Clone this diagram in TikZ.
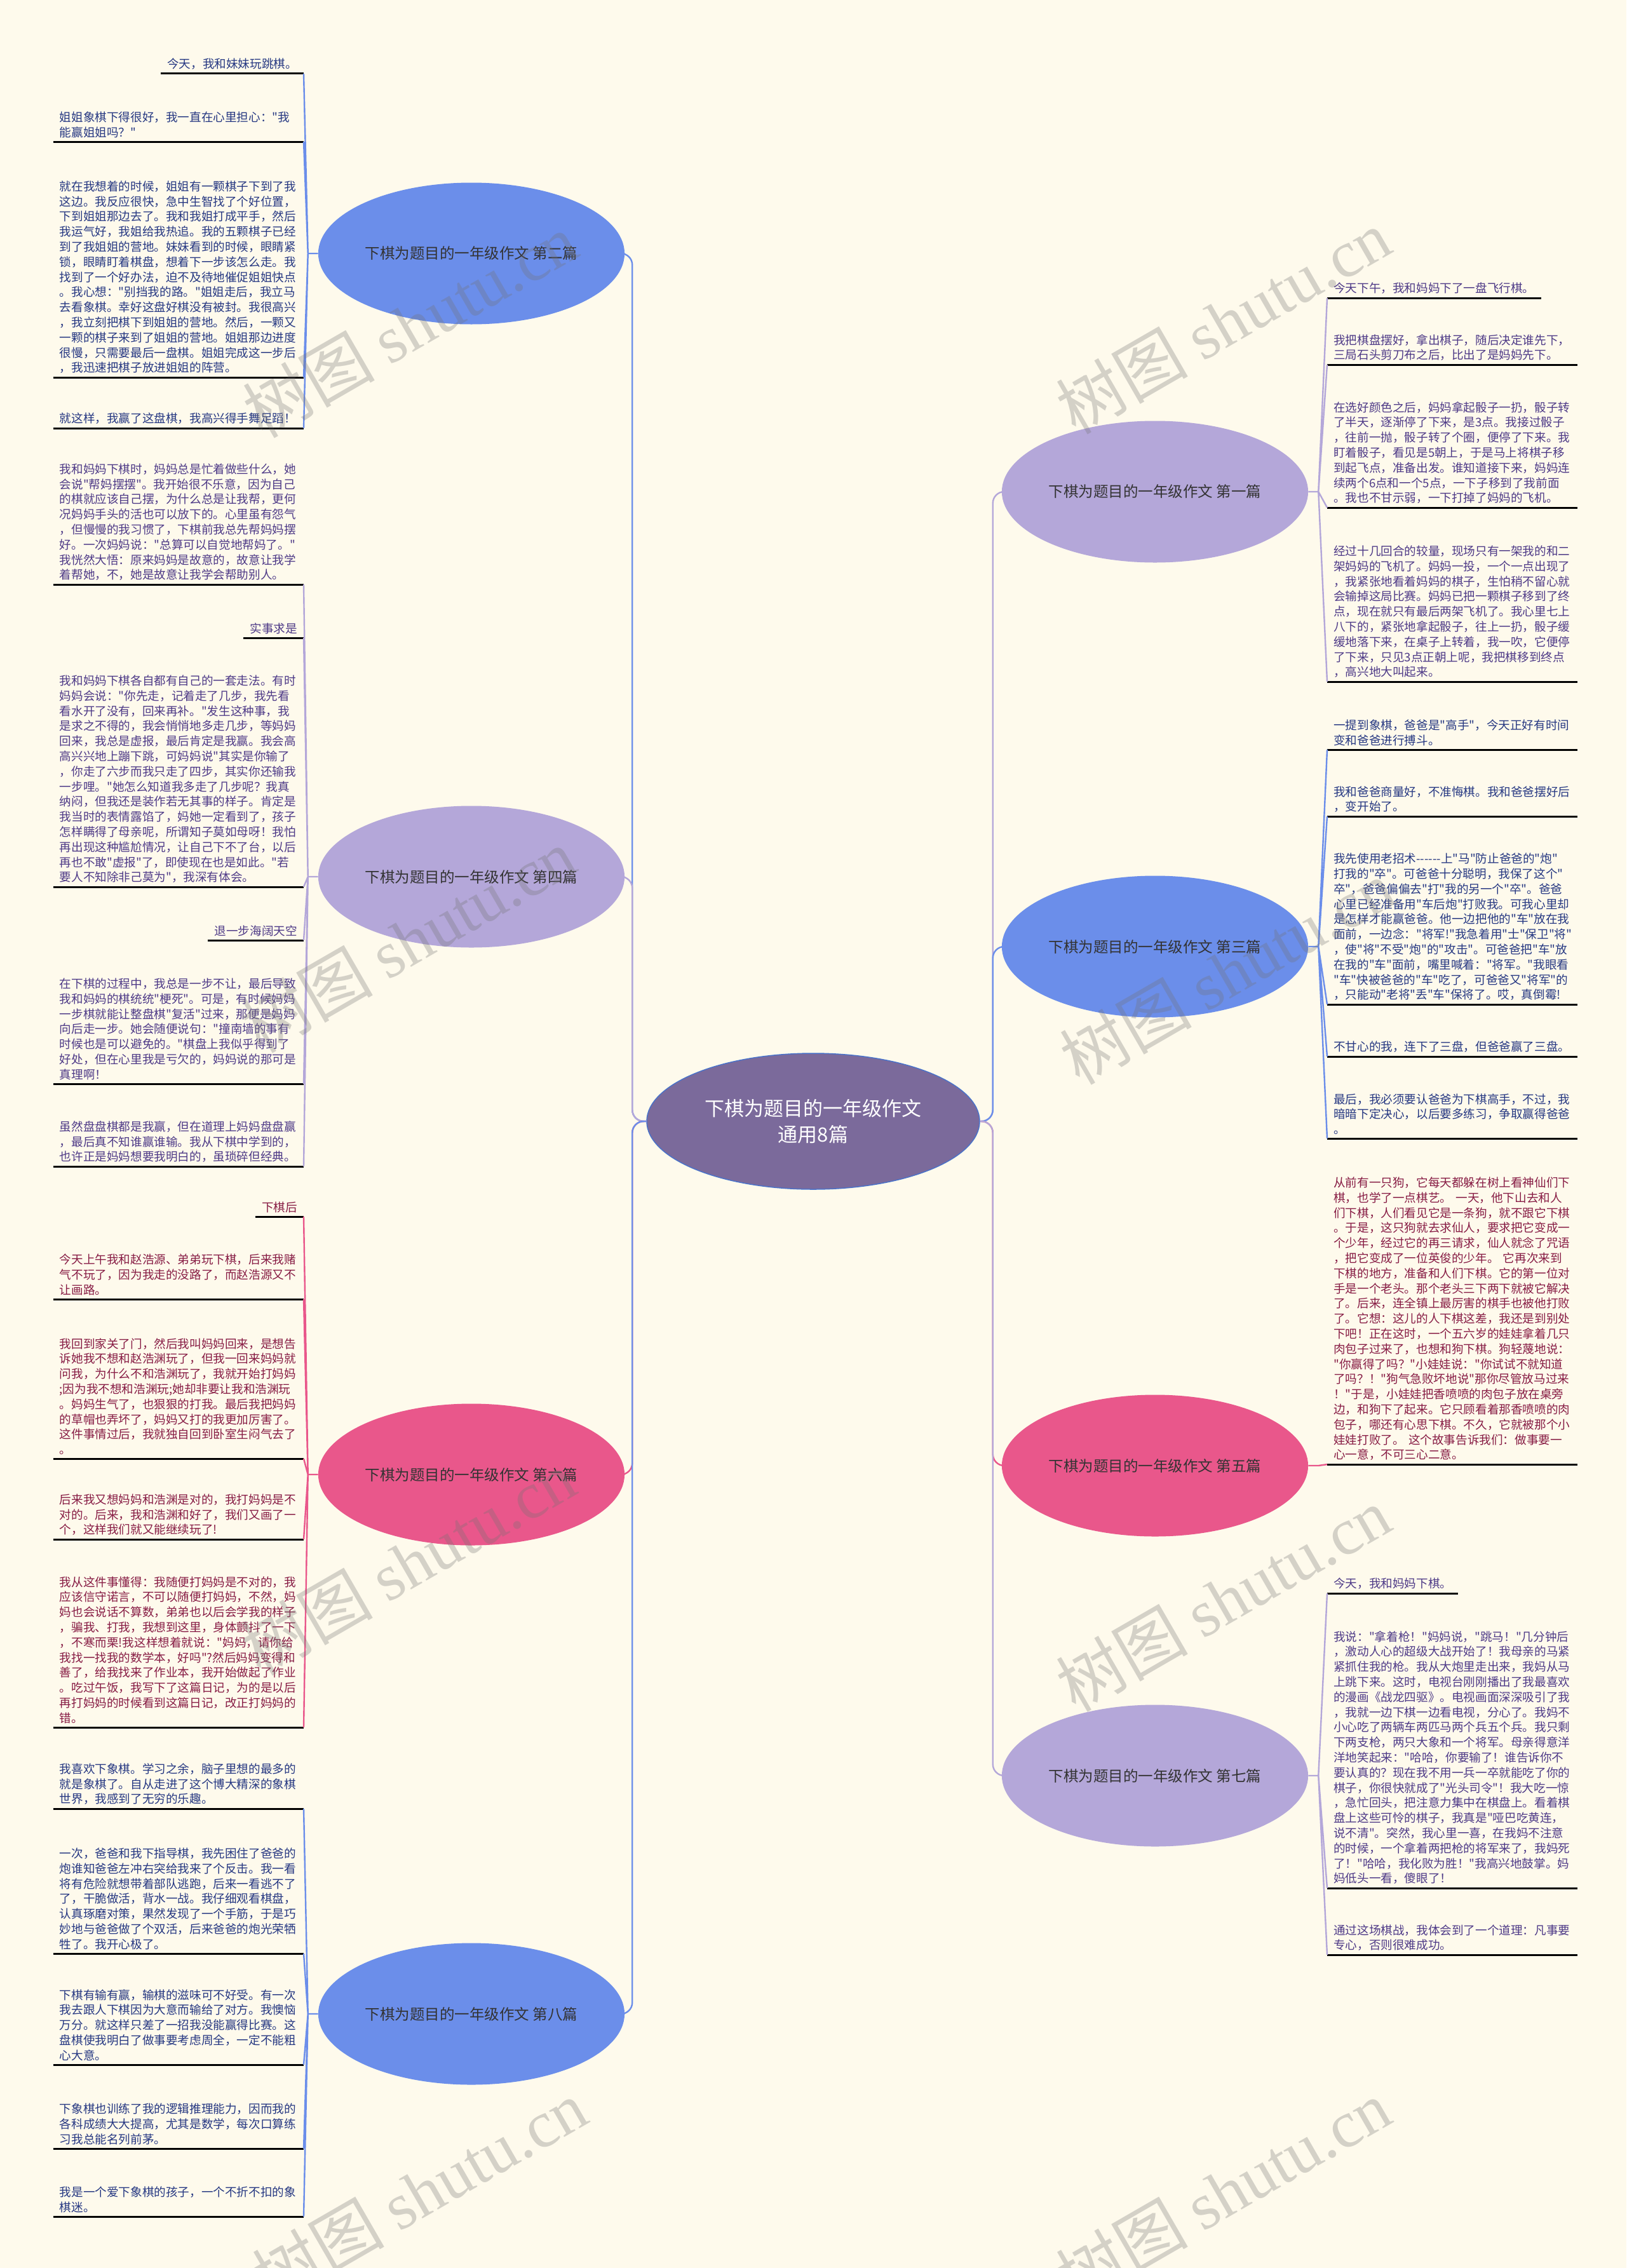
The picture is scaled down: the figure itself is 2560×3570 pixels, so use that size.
\documentclass[tikz,border=0pt]{standalone}
\usepackage{fontspec}
\newfontfamily\cjk{Noto Sans CJK SC}
\newfontfamily\wmserif{Liberation Serif}
\usetikzlibrary{shapes.geometric}

\definecolor{bgcream}{RGB}{254,250,236}
\definecolor{rootfill}{RGB}{123,106,155}
\definecolor{rootline}{RGB}{74,114,201}
\definecolor{pblue}{RGB}{107,142,234}
\definecolor{plilac}{RGB}{180,167,217}
\definecolor{ppink}{RGB}{233,87,139}
\definecolor{tblue}{RGB}{38,56,130}
\definecolor{tlilac}{RGB}{78,58,135}
\definecolor{tpink}{RGB}{135,28,68}

\begin{document}
\begin{tikzpicture}[
  x=1pt, y=-1pt,
  root/.style = {ellipse, draw=rootline, line width=1.5pt, fill=rootfill, text=white,
    minimum width=524pt, minimum height=214pt, align=center,
    font=\cjk\fontsize{31}{41}\selectfont},
  pian/.style = {ellipse, fill=#1, minimum width=481pt, minimum height=223pt,
    text=black!80, font=\cjk\fontsize{23.5}{27}\selectfont},
  uline/.style = {draw=black, line width=3pt},
  leaf/.style = {text=#1, inner xsep=10pt, inner ysep=6pt, align=left,
    font=\cjk\fontsize{18.6}{23.8}\selectfont,
    append after command={(\tikzlastnode.south west) edge[uline] (\tikzlastnode.south east)}},
  wide/.style = {text width=374pt},
  lside/.style = {anchor=south east},
  rside/.style = {anchor=south west},
  conn/.style = {draw=#1, line width=2.4pt, rounded corners=18pt},
  wmark/.style = {rotate=30, text=black!55, opacity=0.3, font=\cjk\fontsize{104}{104}\selectfont}
  ]
	\useasboundingbox (0,0) rectangle (2560,3570);
	\fill[bgcream] (0,0) rectangle (2560,3570);

	\node[root] (root) at (1280,1765) {下棋为题目的一年级作文\\通用8篇};

	\node[pian=pblue]  (pian2) at (742,399)   {下棋为题目的一年级作文 第二篇};
	\node[pian=plilac] (pian4) at (742,1380)  {下棋为题目的一年级作文 第四篇};
	\node[pian=ppink]  (pian6) at (742,2321)  {下棋为题目的一年级作文 第六篇};
	\node[pian=pblue]  (pian8) at (742,3170)  {下棋为题目的一年级作文 第八篇};
	\node[pian=plilac] (pian1) at (1818,774)  {下棋为题目的一年级作文 第一篇};
	\node[pian=pblue]  (pian3) at (1818,1490) {下棋为题目的一年级作文 第三篇};
	\node[pian=ppink]  (pian5) at (1818,2307) {下棋为题目的一年级作文 第五篇};
	\node[pian=plilac] (pian7) at (1818,2795) {下棋为题目的一年级作文 第七篇};

	\node[leaf=tblue,lside] (p2a) at (478,116) {今天，我和妹妹玩跳棋。};
	\node[leaf=tblue,wide,lside] (p2b) at (478,223) {姐姐象棋下得很好，我一直在心里担心："我\\能赢姐姐吗？"};
	\node[leaf=tblue,wide,lside] (p2c) at (478,594) {就在我想着的时候，姐姐有一颗棋子下到了我\\这边。我反应很快，急中生智找了个好位置，\\下到姐姐那边去了。我和我姐打成平手，然后\\我运气好，我姐给我热追。我的五颗棋子已经\\到了我姐姐的营地。妹妹看到的时候，眼睛紧\\锁，眼睛盯着棋盘，想着下一步该怎么走。我\\找到了一个好办法，迫不及待地催促姐姐快点\\。我心想："别挡我的路。"姐姐走后，我立马\\去看象棋。幸好这盘好棋没有被封。我很高兴\\，我立刻把棋下到姐姐的营地。然后，一颗又\\一颗的棋子来到了姐姐的营地。姐姐那边进度\\很慢，只需要最后一盘棋。姐姐完成这一步后\\，我迅速把棋子放进姐姐的阵营。};
	\node[leaf=tblue,wide,lside] (p2d) at (478,674) {就这样，我赢了这盘棋，我高兴得手舞足蹈！};

	\node[leaf=tlilac,wide,lside] (p4a) at (478,920) {我和妈妈下棋时，妈妈总是忙着做些什么，她\\会说"帮妈摆摆"。我开始很不乐意，因为自己\\的棋就应该自己摆，为什么总是让我帮，更何\\况妈妈手头的活也可以放下的。心里虽有怨气\\，但慢慢的我习惯了，下棋前我总先帮妈妈摆\\好。一次妈妈说："总算可以自觉地帮妈了。"\\我恍然大悟：原来妈妈是故意的，故意让我学\\着帮她，不，她是故意让我学会帮助别人。};
	\node[leaf=tlilac,lside] (p4b) at (478,1004) {实事求是};
	\node[leaf=tlilac,wide,lside] (p4c) at (478,1396) {我和妈妈下棋各自都有自己的一套走法。有时\\妈妈会说："你先走，记着走了几步，我先看\\看水开了没有，回来再补。"发生这种事，我\\是求之不得的，我会悄悄地多走几步，等妈妈\\回来，我总是虚报，最后肯定是我赢。我会高\\高兴兴地上蹦下跳，可妈妈说"其实是你输了\\，你走了六步而我只走了四步，其实你还输我\\一步哩。"她怎么知道我多走了几步呢？我真\\纳闷，但我还是装作若无其事的样子。肯定是\\我当时的表情露馅了，妈她一定看到了，孩子\\怎样瞒得了母亲呢，所谓知子莫如母呀！我怕\\再出现这种尴尬情况，让自己下不了台，以后\\再也不敢"虚报"了，即使现在也是如此。"若\\要人不知除非己莫为"，我深有体会。};
	\node[leaf=tlilac,lside] (p4d) at (478,1480) {退一步海阔天空};
	\node[leaf=tlilac,wide,lside] (p4e) at (478,1706) {在下棋的过程中，我总是一步不让，最后导致\\我和妈妈的棋统统"梗死"。可是，有时候妈妈\\一步棋就能让整盘棋"复活"过来，那便是妈妈\\向后走一步。她会随便说句："撞南墙的事有\\时候也是可以避免的。"棋盘上我似乎得到了\\好处，但在心里我是亏欠的，妈妈说的那可是\\真理啊！};
	\node[leaf=tlilac,wide,lside] (p4f) at (478,1836) {虽然盘盘棋都是我赢，但在道理上妈妈盘盘赢\\，最后真不知谁赢谁输。我从下棋中学到的，\\也许正是妈妈想要我明白的，虽琐碎但经典。};

	\node[leaf=tpink,lside] (p6a) at (478,1915) {下棋后};
	\node[leaf=tpink,wide,lside] (p6b) at (478,2045) {今天上午我和赵浩源、弟弟玩下棋，后来我赌\\气不玩了，因为我走的没路了，而赵浩源又不\\让画路。};
	\node[leaf=tpink,wide,lside] (p6c) at (478,2296) {我回到家关了门，然后我叫妈妈回来，是想告\\诉她我不想和赵浩渊玩了，但我一回来妈妈就\\问我，为什么不和浩渊玩了，我就开始打妈妈\\;因为我不想和浩渊玩;她却非要让我和浩渊玩\\。妈妈生气了，也狠狠的打我。最后我把妈妈\\的草帽也弄坏了，妈妈又打的我更加厉害了。\\这件事情过后，我就独自回到卧室生闷气去了\\。};
	\node[leaf=tpink,wide,lside] (p6d) at (478,2423) {后来我又想妈妈和浩渊是对的，我打妈妈是不\\对的。后来，我和浩渊和好了，我们又画了一\\个，这样我们就又能继续玩了!};
	\node[leaf=tpink,wide,lside] (p6e) at (478,2719) {我从这件事懂得：我随便打妈妈是不对的，我\\应该信守诺言，不可以随便打妈妈，不然，妈\\妈也会说话不算数，弟弟也以后会学我的样子\\，骗我、打我，我想到这里，身体颤抖了一下\\，不寒而栗!我这样想着就说："妈妈，请你给\\我找一找我的数学本，好吗"?然后妈妈变得和\\善了，给我找来了作业本，我开始做起了作业\\。吃过午饭，我写下了这篇日记，为的是以后\\再打妈妈的时候看到这篇日记，改正打妈妈的\\错。};

	\node[leaf=tblue,wide,lside] (p8a) at (478,2847) {我喜欢下象棋。学习之余，脑子里想的最多的\\就是象棋了。自从走进了这个博大精深的象棋\\世界，我感到了无穷的乐趣。};
	\node[leaf=tblue,wide,lside] (p8b) at (478,3075) {一次，爸爸和我下指导棋，我先困住了爸爸的\\炮谁知爸爸左冲右突给我来了个反击。我一看\\将有危险就想带着部队逃跑，后来一看逃不了\\了，干脆做活，背水一战。我仔细观看棋盘，\\认真琢磨对策，果然发现了一个手筋，于是巧\\妙地与爸爸做了个双活，后来爸爸的炮光荣牺\\牲了。我开心极了。};
	\node[leaf=tblue,wide,lside] (p8c) at (478,3250) {下棋有输有赢，输棋的滋味可不好受。有一次\\我去跟人下棋因为大意而输给了对方。我懊恼\\万分。就这样只差了一招我没能赢得比赛。这\\盘棋使我明白了做事要考虑周全，一定不能粗\\心大意。};
	\node[leaf=tblue,wide,lside] (p8d) at (478,3382) {下象棋也训练了我的逻辑推理能力，因而我的\\各科成绩大大提高，尤其是数学，每次口算练\\习我总能名列前茅。};
	\node[leaf=tblue,wide,lside] (p8e) at (478,3489) {我是一个爱下象棋的孩子，一个不折不扣的象\\棋迷。};

	\node[leaf=tlilac,rside] (p1a) at (2089,469) {今天下午，我和妈妈下了一盘飞行棋。};
	\node[leaf=tlilac,wide,rside] (p1b) at (2089,574) {我把棋盘摆好，拿出棋子，随后决定谁先下，\\三局石头剪刀布之后，比出了是妈妈先下。};
	\node[leaf=tlilac,wide,rside] (p1c) at (2089,799) {在选好颜色之后，妈妈拿起骰子一扔，骰子转\\了半天，逐渐停了下来，是3点。我接过骰子\\，往前一抛，骰子转了个圈，便停了下来。我\\盯着骰子，看见是5朝上，于是马上将棋子移\\到起飞点，准备出发。谁知道接下来，妈妈连\\续两个6点和一个5点，一下子移到了我前面\\。我也不甘示弱，一下打掉了妈妈的飞机。};
	\node[leaf=tlilac,wide,rside] (p1d) at (2089,1073) {经过十几回合的较量，现场只有一架我的和二\\架妈妈的飞机了。妈妈一投，一个一点出现了\\，我紧张地看着妈妈的棋子，生怕稍不留心就\\会输掉这局比赛。妈妈已把一颗棋子移到了终\\点，现在就只有最后两架飞机了。我心里七上\\八下的，紧张地拿起骰子，往上一扔，骰子缓\\缓地落下来，在桌子上转着，我一吹，它便停\\了下来，只见3点正朝上呢，我把棋移到终点\\，高兴地大叫起来。};

	\node[leaf=tblue,wide,rside] (p3a) at (2089,1180) {一提到象棋，爸爸是"高手"，今天正好有时间\\变和爸爸进行搏斗。};
	\node[leaf=tblue,wide,rside] (p3b) at (2089,1285) {我和爸爸商量好，不准悔棋。我和爸爸摆好后\\，变开始了。};
	\node[leaf=tblue,wide,rside] (p3c) at (2089,1581) {我先使用老招术{-}{-}{-}{-}{-}{-}上"马"防止爸爸的"炮"\\打我的"卒"。可爸爸十分聪明，我保了这个"\\卒"，爸爸偏偏去"打"我的另一个"卒"。爸爸\\心里已经准备用"车后炮"打败我。可我心里却\\是怎样才能赢爸爸。他一边把他的"车"放在我\\面前，一边念："将军!"我急着用"士"保卫"将"\\，使"将"不受"炮"的"攻击"。可爸爸把"车"放\\在我的"车"面前，嘴里喊着："将军。"我眼看\\"车"快被爸爸的"车"吃了，可爸爸又"将军"的\\，只能动"老将"丢"车"保将了。哎，真倒霉!};
	\node[leaf=tblue,wide,rside] (p3d) at (2089,1663) {不甘心的我，连下了三盘，但爸爸赢了三盘。};
	\node[leaf=tblue,wide,rside] (p3e) at (2089,1792) {最后，我必须要认爸爸为下棋高手，不过，我\\暗暗下定决心，以后要多练习，争取赢得爸爸\\。};

	\node[leaf=tpink,wide,rside] (p5a) at (2089,2305) {从前有一只狗，它每天都躲在树上看神仙们下\\棋，也学了一点棋艺。 一天，他下山去和人\\们下棋，人们看见它是一条狗，就不跟它下棋\\。于是，这只狗就去求仙人，要求把它变成一\\个少年，经过它的再三请求，仙人就念了咒语\\，把它变成了一位英俊的少年。 它再次来到\\下棋的地方，准备和人们下棋。它的第一位对\\手是一个老头。那个老头三下两下就被它解决\\了。后来，连全镇上最厉害的棋手也被他打败\\了。它想：这儿的人下棋这差，我还是到别处\\下吧！正在这时，一个五六岁的娃娃拿着几只\\肉包子过来了，也想和狗下棋。狗轻蔑地说：\\"你赢得了吗？"小娃娃说："你试试不就知道\\了吗？！"狗气急败坏地说"那你尽管放马过来\\！"于是，小娃娃把香喷喷的肉包子放在桌旁\\边，和狗下了起来。它只顾看着那香喷喷的肉\\包子，哪还有心思下棋。不久，它就被那个小\\娃娃打败了。 这个故事告诉我们：做事要一\\心一意，不可三心二意。};

	\node[leaf=tlilac,rside] (p7a) at (2089,2508) {今天，我和妈妈下棋。};
	\node[leaf=tlilac,wide,rside] (p7b) at (2089,2972) {我说："拿着枪！"妈妈说，"跳马！"几分钟后\\，激动人心的超级大战开始了！我母亲的马紧\\紧抓住我的枪。我从大炮里走出来，我妈从马\\上跳下来。这时，电视台刚刚播出了我最喜欢\\的漫画《战龙四驱》。电视画面深深吸引了我\\，我就一边下棋一边看电视，分心了。我妈不\\小心吃了两辆车两匹马两个兵五个兵。我只剩\\下两支枪，两只大象和一个将军。母亲得意洋\\洋地笑起来："哈哈，你要输了！谁告诉你不\\要认真的？现在我不用一兵一卒就能吃了你的\\棋子，你很快就成了"光头司令"！我大吃一惊\\，急忙回头，把注意力集中在棋盘上。看着棋\\盘上这些可怜的棋子，我真是"哑巴吃黄连，\\说不清"。突然，我心里一喜，在我妈不注意\\的时候，一个拿着两把枪的将军来了，我妈死\\了！"哈哈，我化败为胜！"我高兴地鼓掌。妈\\妈低头一看，傻眼了！};
	\node[leaf=tlilac,wide,rside] (p7c) at (2089,3077) {通过这场棋战，我体会到了一个道理：凡事要\\专心，否则很难成功。};

	\draw[conn=pblue]  (root.west) -- ++(-22,0) |- (pian2.east);
	\draw[conn=plilac] (root.west) -- ++(-22,0) |- (pian4.east);
	\draw[conn=ppink]  (root.west) -- ++(-22,0) |- (pian6.east);
	\draw[conn=pblue]  (root.west) -- ++(-22,0) |- (pian8.east);
	\draw[conn=plilac] (root.east) -- ++(20,0) |- (pian1.west);
	\draw[conn=pblue]  (root.east) -- ++(20,0) |- (pian3.west);
	\draw[conn=ppink]  (root.east) -- ++(20,0) |- (pian5.west);
	\draw[conn=plilac] (root.east) -- ++(20,0) |- (pian7.west);

	\draw[conn=pblue,rounded corners=0pt] (pian2.west) -- ++(-16,0) coordinate (f2)
	  -- (p2a.south east) (f2) -- (p2b.south east) (f2) -- (p2c.south east) (f2) -- (p2d.south east);
	\draw[conn=plilac,rounded corners=0pt] (pian4.west) -- ++(-16,0) coordinate (f4)
	  -- (p4a.south east) (f4) -- (p4b.south east) (f4) -- (p4c.south east)
	  (f4) -- (p4d.south east) (f4) -- (p4e.south east) (f4) -- (p4f.south east);
	\draw[conn=ppink,rounded corners=0pt] (pian6.west) -- ++(-16,0) coordinate (f6)
	  -- (p6a.south east) (f6) -- (p6b.south east) (f6) -- (p6c.south east)
	  (f6) -- (p6d.south east) (f6) -- (p6e.south east);
	\draw[conn=pblue,rounded corners=0pt] (pian8.west) -- ++(-16,0) coordinate (f8)
	  -- (p8a.south east) (f8) -- (p8b.south east) (f8) -- (p8c.south east)
	  (f8) -- (p8d.south east) (f8) -- (p8e.south east);
	\draw[conn=plilac,rounded corners=0pt] (pian1.east) -- ++(16,0) coordinate (f1)
	  -- (p1a.south west) (f1) -- (p1b.south west) (f1) -- (p1c.south west) (f1) -- (p1d.south west);
	\draw[conn=pblue,rounded corners=0pt] (pian3.east) -- ++(16,0) coordinate (f3)
	  -- (p3a.south west) (f3) -- (p3b.south west) (f3) -- (p3c.south west)
	  (f3) -- (p3d.south west) (f3) -- (p3e.south west);
	\draw[conn=ppink,rounded corners=0pt] (pian5.east) -- ++(16,0) coordinate (f5) -- (p5a.south west);
	\draw[conn=plilac,rounded corners=0pt] (pian7.east) -- ++(16,0) coordinate (f7)
	  -- (p7a.south west) (f7) -- (p7b.south west) (f7) -- (p7c.south west);

	\node[wmark] (w1) at (645,512)   {树图 {\wmserif shutu.cn}};
	\node[wmark] (w2) at (1925,506)  {树图 {\wmserif shutu.cn}};
	\node[wmark] (w3) at (642,1480)  {树图 {\wmserif shutu.cn}};
	\node[wmark] (w4) at (1931,1530) {树图 {\wmserif shutu.cn}};
	\node[wmark] (w5) at (642,2460)  {树图 {\wmserif shutu.cn}};
	\node[wmark] (w6) at (1925,2517) {树图 {\wmserif shutu.cn}};
	\node[wmark] (w7) at (660,3450)  {树图 {\wmserif shutu.cn}};
	\node[wmark] (w8) at (1925,3450) {树图 {\wmserif shutu.cn}};

\end{tikzpicture}
\end{document}
